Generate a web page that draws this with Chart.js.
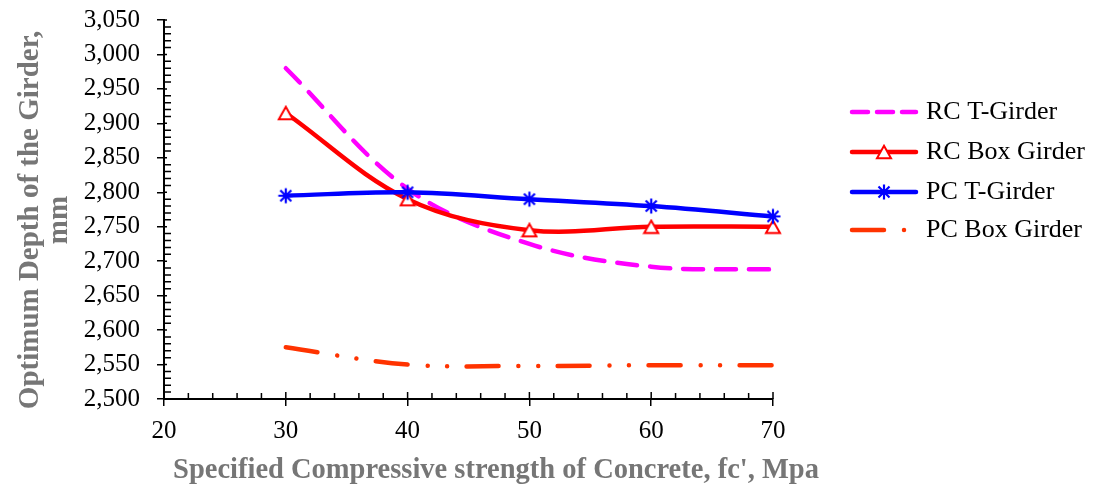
<!DOCTYPE html>
<html><head><meta charset="utf-8">
<script src="https://cdn.jsdelivr.net/npm/chart.js@4.4.1/dist/chart.umd.min.js"></script>
<style>html,body{margin:0;padding:0;background:#fff;}canvas{display:block;}</style>
</head><body>
<canvas id="c" width="1105" height="486"></canvas>
<script>
// ---- data ----
const strengths = [30, 40, 50, 60, 70];
const rcTGirder = [2980, 2805, 2725, 2692, 2688];
const rcBoxGirder = [2915, 2790, 2745, 2750, 2750];
const pcTGirder = [2795, 2800, 2790, 2780, 2765];
const pcBoxGirder = [2575, 2550, 2548, 2549, 2549];
const seriesNames = ['RC T-Girder', 'RC Box Girder', 'PC T-Girder', 'PC Box Girder'];
const xTickValues = [20, 30, 40, 50, 60, 70];
const yTickValues = [2500, 2550, 2600, 2650, 2700, 2750, 2800, 2850, 2900, 2950, 3000, 3050];
const xTitle = "Specified Compressive strength of Concrete, fc', Mpa";
const yTitle = ['Optimum Depth of the Girder,', 'mm'];

// ---- marker images ----
function triangleImg() {
  const c = document.createElement('canvas'); c.width = 18; c.height = 16;
  const g = c.getContext('2d');
  g.beginPath(); g.moveTo(9, 1.8); g.lineTo(16, 14.2); g.lineTo(2, 14.2); g.closePath();
  g.fillStyle = '#fff'; g.fill(); g.strokeStyle = '#FF0000'; g.lineWidth = 2; g.stroke();
  return c;
}
function starImg() {
  const c = document.createElement('canvas'); c.width = 18; c.height = 18;
  const g = c.getContext('2d'); g.strokeStyle = '#0000FF'; g.lineWidth = 2.2;
  g.beginPath();
  g.moveTo(9, 1.5); g.lineTo(9, 16.5);
  g.moveTo(3.5, 3.5); g.lineTo(14.5, 14.5);
  g.moveTo(14.5, 3.5); g.lineTo(3.5, 14.5);
  g.moveTo(1.5, 9); g.lineTo(16.5, 9);
  g.stroke();
  return c;
}
const tri = triangleImg(), star = starImg();

const toXY = ys => strengths.map((x, i) => ({x: x, y: ys[i]}));
const serif = "'Liberation Serif', 'Times New Roman', serif";

const datasets = [
  {label: seriesNames[0], data: toXY(rcTGirder), borderColor: '#FF00FF', borderWidth: 4.5,
   borderDash: [20, 13], borderCapStyle: 'round', pointRadius: 0, order: 4},
  {label: seriesNames[1], data: toXY(rcBoxGirder), borderColor: '#FF0000', borderWidth: 4.5,
   pointStyle: tri, pointRadius: 8, order: 3},
  {label: seriesNames[2], data: toXY(pcTGirder), borderColor: '#0000FF', borderWidth: 4.5,
   pointStyle: star, pointRadius: 8, order: 2},
  {label: seriesNames[3], data: toXY(pcBoxGirder), borderColor: '#FF3300', borderWidth: 4.5,
   borderDash: [32, 20, 0.01, 19.5, 0.01, 19.5], borderCapStyle: 'round', pointRadius: 0, order: 1}
];

const decor = {
  id: 'decor',
  beforeDatasetsDraw(chart) {
    const ctx = chart.ctx, xs = chart.scales.x, ys = chart.scales.y, a = chart.chartArea;
    ctx.save(); ctx.strokeStyle = '#000'; ctx.lineWidth = 1.5;
    ctx.beginPath();
    for (let v = 2500; v <= 3050; v += 10) {
      const p = ys.getPixelForValue(v);
      const len = (v % 50 === 0) ? 3 : 7;
      ctx.moveTo(a.left, p); ctx.lineTo(a.left + len, p);
    }
    for (let v = 20; v <= 70; v += 2) {
      const p = xs.getPixelForValue(v);
      const len = (v % 10 === 0) ? 7 : 6;
      ctx.moveTo(p, a.bottom); ctx.lineTo(p, a.bottom - len);
    }
    ctx.stroke(); ctx.restore();
  },
  afterDraw(chart) {
    const ctx = chart.ctx;
    ctx.save();
    // axis titles
    ctx.fillStyle = '#767676';
    ctx.font = "bold 28.5px " + serif;
    ctx.textAlign = 'center'; ctx.textBaseline = 'alphabetic';
    ctx.fillText(xTitle, 496, 478);
    ctx.save();
    ctx.translate(38, 220); ctx.rotate(-Math.PI / 2);
    ctx.font = "bold 29px " + serif;
    ctx.fillText(yTitle[0], 0, 0);
    ctx.fillText(yTitle[1], 0, 29);
    ctx.restore();
    // legend
    const ly = [112, 152, 192, 230];
    chart.data.datasets.forEach((ds, i) => {
      const y = ly[i];
      ctx.save();
      ctx.strokeStyle = ds.borderColor; ctx.lineWidth = ds.borderWidth;
      ctx.lineCap = 'round';
      if (ds.borderDash) ctx.setLineDash(i === 0 ? [16, 9] : ds.borderDash);
      ctx.beginPath(); ctx.moveTo(852, y); ctx.lineTo(916, y); ctx.stroke();
      ctx.restore();
      if (ds.pointRadius > 0 && ds.pointStyle && ds.pointStyle.width) {
        const im = ds.pointStyle;
        ctx.drawImage(im, 884 - im.width / 2, y - im.height / 2);
      }
      ctx.fillStyle = '#000'; ctx.font = "26px " + serif;
      ctx.textAlign = 'left'; ctx.textBaseline = 'middle';
      ctx.fillText(ds.label, 926, y);
    });
    ctx.restore();
  }
};

new Chart(document.getElementById('c'), {
  type: 'line',
  data: {datasets: datasets},
  plugins: [decor],
  options: {
    responsive: false, animation: false, devicePixelRatio: 1,
    layout: {padding: {left: 0, right: 332, top: 20, bottom: 0}},
    plugins: {legend: {display: false}, tooltip: {enabled: false}},
    elements: {line: {tension: 0.35, fill: false}},
    datasets: {line: {clip: false}},
    scales: {
      x: {
        type: 'linear', min: 20, max: 70,
        afterBuildTicks: s => { s.ticks = xTickValues.map(v => ({value: v})); },
        afterFit: s => { s.height = 87; s.paddingLeft = 0; s.paddingRight = 0; },
        ticks: {color: '#000', font: {family: serif, size: 25}, padding: 10, maxRotation: 0},
        grid: {drawOnChartArea: false, drawTicks: true, tickLength: 7, color: '#000', lineWidth: 1.5},
        border: {display: true, color: '#000', width: 2}
      },
      y: {
        type: 'linear', min: 2500, max: 3050,
        afterBuildTicks: s => { s.ticks = yTickValues.map(v => ({value: v})); },
        afterFit: s => { s.width = 164; s.paddingTop = 0; s.paddingBottom = 0; },
        ticks: {color: '#000', font: {family: serif, size: 25}, padding: 17,
                callback: v => v.toLocaleString('en-US')},
        grid: {drawOnChartArea: false, drawTicks: true, tickLength: 7, color: '#000', lineWidth: 1.5},
        border: {display: true, color: '#000', width: 2}
      }
    }
  }
});
</script>
</body></html>
